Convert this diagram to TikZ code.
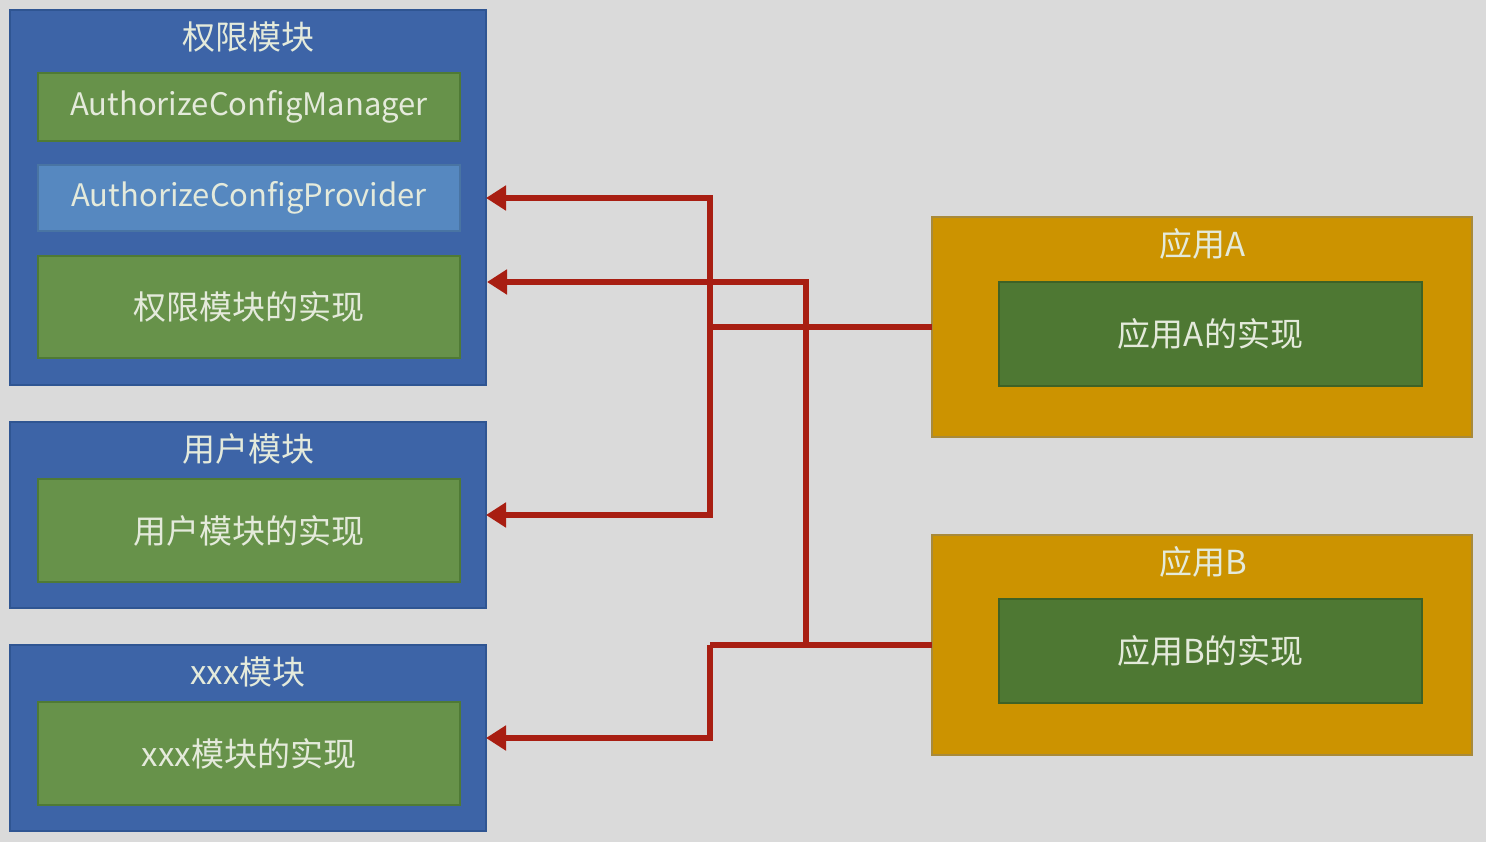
\documentclass[tikz,border=0pt]{standalone}
\usepackage{fontspec}
\setmainfont{Noto Sans CJK SC}
\usetikzlibrary{arrows.meta,calc}
\definecolor{bg}{HTML}{DADADA}
\definecolor{modblue}{HTML}{3D64A7}
\definecolor{modblueb}{HTML}{2F5592}
\definecolor{implgreen}{HTML}{67924A}
\definecolor{implgreenb}{HTML}{4F7A35}
\definecolor{provblue}{HTML}{5688C0}
\definecolor{appyellow}{HTML}{CC9300}
\definecolor{appyellowb}{HTML}{A88A3A}
\definecolor{appgreen}{HTML}{4E7833}
\definecolor{appgreenb}{HTML}{3E6226}
\definecolor{txt}{HTML}{E4EADB}
\definecolor{conncol}{HTML}{A81E12}
\tikzset{
  box/.style={anchor=north west, inner sep=0pt, outer sep=0pt, line width=1.2pt},
  outerbox/.style={box, fill=modblue, draw=modblueb},
  implbox/.style={box, fill=implgreen, draw=implgreenb, text=txt, font=\fontsize{33}{38}\selectfont},
  latinbox/.style={font=\fontsize{31}{36}\selectfont},
  provbox/.style={box, fill=provblue, draw=provblue!85!black, text=txt, font=\fontsize{31}{36}\selectfont},
  appbox/.style={box, fill=appyellow, draw=appyellowb},
  appimpl/.style={box, fill=appgreen, draw=appgreenb, text=txt, font=\fontsize{33}{38}\selectfont},
  title/.style={text=txt, font=\fontsize{33}{38}\selectfont, inner sep=0pt},
  conn/.style={draw=conncol, line width=6.5pt, -{Triangle[length=20pt,width=24pt]}},
  connline/.style={draw=conncol, line width=6.5pt},
}
\begin{document}
\begin{tikzpicture}[x=1pt,y=-1pt]
\fill[bg] (0,0) rectangle (1486,842);
\useasboundingbox (0,0) rectangle (1486,842);
% module boxes
\node[outerbox, minimum width=476pt, minimum height=375pt] (perm) at (10,10) {};
\node[title] (permt) at (248,37) {权限模块};
\node[implbox, latinbox, minimum width=422pt, minimum height=68pt] (mgr) at (38,73) {AuthorizeConfigManager};
\node[provbox, minimum width=422pt, minimum height=66pt] (prov) at (38,165) {AuthorizeConfigProvider};
\node[implbox, minimum width=422pt, minimum height=102pt] (permimpl) at (38,256) {权限模块的实现};

\node[outerbox, minimum width=476pt, minimum height=186pt] (user) at (10,422) {};
\node[title] (usert) at (248,449) {用户模块};
\node[implbox, minimum width=422pt, minimum height=103pt] (userimpl) at (38,479) {用户模块的实现};

\node[outerbox, minimum width=476pt, minimum height=186pt] (xxx) at (10,645) {};
\node[title] (xxxt) at (248,672) {xxx模块};
\node[implbox, minimum width=422pt, minimum height=103pt] (xxximpl) at (38,702) {xxx模块的实现};

% app boxes
\node[appbox, minimum width=540pt, minimum height=220pt] (appA) at (932,217) {};
\node[title] (appAt) at (1203,244) {应用A};
\node[appimpl, minimum width=423pt, minimum height=104pt] (appAimpl) at (999,282) {应用A的实现};

\node[appbox, minimum width=540pt, minimum height=220pt] (appB) at (932,535) {};
\node[title] (appBt) at (1203,562) {应用B};
\node[appimpl, minimum width=423pt, minimum height=104pt] (appBimpl) at (999,599) {应用B的实现};

% junction coordinates
\coordinate (ja) at (710,327);
\coordinate (jb) at (710,645);
\coordinate (jc) at (806,645);
\coordinate (p2) at (487,282);

% connectors
\draw[connline] (appA.west) -- (ja);
\draw[conn] (ja) |- (prov -| perm.east);
\draw[conn] (ja) |- (user.east);
\draw[connline] (appB.west) -- (jb);
\draw[conn] (jb) |- (xxx.east);
\draw[conn] (jc) |- (p2);
\end{tikzpicture}
\end{document}
